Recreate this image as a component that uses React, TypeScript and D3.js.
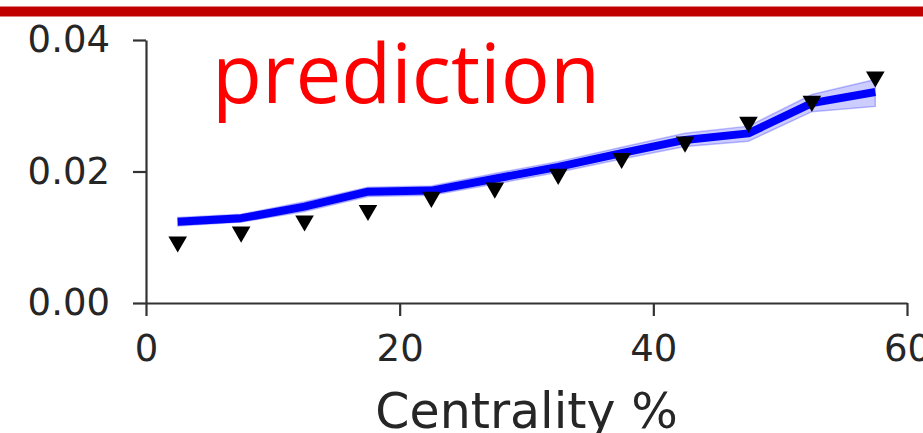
import React, { useRef, useEffect } from 'react';
import * as d3 from 'd3';

// centrality bin centres (%)
const centrality = [2.5, 7.5, 12.5, 17.5, 22.5, 27.5, 32.5, 37.5, 42.5, 47.5, 52.5, 57.5];
// model prediction (blue line) and its band
const prediction = [0.01236, 0.0129, 0.01465, 0.01693, 0.0171, 0.0189, 0.0207, 0.0228, 0.0248, 0.0258, 0.0304, 0.0321];
const bandLow = [0.0117, 0.0123, 0.0139, 0.0162, 0.0164, 0.0181, 0.0199, 0.0219, 0.0238, 0.0246, 0.0291, 0.0299];
const bandHigh = [0.0130, 0.0135, 0.0154, 0.0176, 0.0178, 0.0197, 0.0215, 0.0237, 0.0258, 0.0269, 0.0317, 0.0340];
// data points (black down triangles)
const measured = [0.0093, 0.0108, 0.0125, 0.0141, 0.0161, 0.0175, 0.0196, 0.022, 0.0245, 0.0275, 0.0307, 0.0344];

const xTicks = [0, 20, 40, 60];
const yTicks = [0, 0.02, 0.04];

const PredictionChart = () => {
  const svgRef = useRef(null);

  useEffect(() => {
    const svg = d3.select(svgRef.current);
    svg.selectAll('*').remove();
    const width = 923;
    const height = 433;

    const margin = { top: 40, right: 16, bottom: 130, left: 146 };
    const innerWidth = width - margin.left - margin.right;
    const innerHeight = height - margin.top - margin.bottom;

    const xScale = d3.scaleLinear().domain([0, 60]).range([0, innerWidth]);
    const yScale = d3.scaleLinear().domain([0, 0.04]).range([innerHeight, 0]);

    // red bar across the top
    svg.append('rect')
      .attr('x', 0).attr('y', 6.5)
      .attr('width', width).attr('height', 10)
      .attr('fill', '#c00000');

    const g = svg.append('g')
      .attr('transform', `translate(${margin.left},${margin.top})`);

    const rows = centrality.map((c, i) => ({
      c, p: prediction[i], lo: bandLow[i], hi: bandHigh[i], m: measured[i]
    }));

    // uncertainty band
    const area = d3.area()
      .x(d => xScale(d.c))
      .y0(d => yScale(d.lo))
      .y1(d => yScale(d.hi));

    g.append('path')
      .datum(rows)
      .attr('fill', 'rgba(0,0,255,0.2)')
      .attr('stroke', 'rgba(0,0,255,0.25)')
      .attr('stroke-width', 1.5)
      .attr('d', area);

    // prediction line
    const line = d3.line()
      .x(d => xScale(d.c))
      .y(d => yScale(d.p));

    g.append('path')
      .datum(rows)
      .attr('fill', 'none')
      .attr('stroke', '#0000ff')
      .attr('stroke-width', 8)
      .attr('stroke-linejoin', 'round')
      .attr('d', line);

    // measured points
    const tri = d3.symbol().type(d3.symbolTriangle).size(150);
    g.selectAll('.pt')
      .data(rows)
      .enter()
      .append('path')
      .attr('class', 'pt')
      .attr('d', tri)
      .attr('fill', '#000')
      .attr('transform', d => `translate(${xScale(d.c)},${yScale(d.m)}) rotate(180)`);

    // axes
    const xAxis = g.append('g')
      .attr('transform', `translate(0,${innerHeight})`)
      .call(d3.axisBottom(xScale).tickValues(xTicks).tickSize(13).tickSizeOuter(0).tickPadding(19));

    const yAxis = g.append('g')
      .call(d3.axisLeft(yScale).tickValues(yTicks).tickFormat(d3.format('.2f')).tickSize(13).tickSizeOuter(0).tickPadding(23));

    [xAxis, yAxis].forEach(a => {
      a.select('.domain').attr('stroke', '#333').attr('stroke-width', 2.2);
      a.selectAll('.tick line').attr('stroke', '#333').attr('stroke-width', 2.2);
      a.selectAll('.tick text')
        .attr('fill', '#262626')
        .style('font-family', '"DejaVu Sans", sans-serif')
        .style('font-size', '37px');
    });

    // axis title
    g.append('text')
      .attr('x', innerWidth / 2)
      .attr('y', 428 - margin.top)
      .attr('text-anchor', 'middle')
      .attr('fill', '#262626')
      .style('font-family', '"DejaVu Sans", sans-serif')
      .style('font-size', '49px')
      .text('Centrality %');

    // red label
    svg.append('text')
      .attr('x', 212)
      .attr('y', 103)
      .attr('fill', '#ff0000')
      .attr('textLength', 388)
      .attr('lengthAdjust', 'spacingAndGlyphs')
      .style('font-family', '"Open Sans", sans-serif')
      .style('font-size', '82px')
      .text('prediction');

  }, []);

  return (
    <svg ref={svgRef} width="923" height="433"
      style={{ position: 'absolute', left: 0, top: 0, background: '#fff' }}></svg>
  );
};

export default function App() {
  return <PredictionChart />;
}
